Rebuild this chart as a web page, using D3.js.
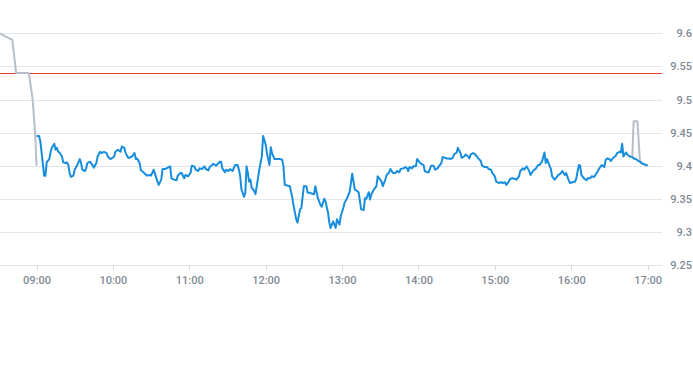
<!DOCTYPE html>
<html>
<head>
<meta charset="utf-8">
<script src="https://cdn.jsdelivr.net/npm/d3@7"></script>
<style>
  body { margin: 0; background: #fff; }
  text { font-family: Roboto, "Noto Sans", sans-serif; }
</style>
</head>
<body>
<div id="chart"></div>
<script>
// pre-market (grey) points
var preTimes = ["08:31", "08:41", "08:44", "08:54", "08:57", "08:59", "09:00"];
var prePrices = [9.600, 9.590, 9.540, 9.540, 9.500, 9.447, 9.400];

// after-hours (grey) points
var postTimes = ["16:48", "16:49", "16:52", "16:54", "17:00"];
var postPrices = [9.413, 9.467, 9.467, 9.406, 9.400];

// regular session (blue)
var sessionTimes = [
  "09:00","09:02","09:03","09:04","09:06","09:07","09:08","09:10","09:11","09:12","09:14","09:15","09:16","09:17","09:18","09:20",
  "09:21","09:23","09:24","09:25","09:26","09:27","09:29","09:30","09:32","09:34","09:35","09:36","09:38","09:39","09:40","09:42",
  "09:44","09:45","09:47","09:48","09:50","09:51","09:53","09:55","09:56","09:58","09:59","10:01","10:02","10:04","10:06","10:07",
  "10:09","10:10","10:12","10:13","10:15","10:17","10:18","10:19","10:21","10:22","10:24","10:25","10:27","10:29","10:30","10:32",
  "10:33","10:35","10:36","10:38","10:39","10:41","10:42","10:44","10:45","10:46","10:48","10:50","10:51","10:53","10:54","10:56",
  "10:57","10:59","11:01","11:02","11:04","11:05","11:07","11:08","11:10","11:12","11:13","11:15","11:16","11:18","11:19","11:21",
  "11:23","11:24","11:25","11:26","11:28","11:29","11:31","11:32","11:34","11:36","11:38","11:39","11:40","11:41","11:43","11:44",
  "11:45","11:46","11:47","11:48","11:49","11:51","11:52","11:53","11:55","11:57","11:58","12:00","12:01","12:03","12:04","12:05",
  "12:07","12:09","12:11","12:13","12:14","12:15","12:17","12:19","12:21","12:22","12:24","12:25","12:26","12:27","12:28","12:30",
  "12:32","12:33","12:35","12:36","12:38","12:39","12:41","12:43","12:44","12:46","12:47","12:49","12:50","12:51","12:53","12:55",
  "12:56","12:58","12:59","13:01","13:02","13:04","13:06","13:07","13:08","13:10","13:11","13:13","13:15","13:17","13:18","13:19",
  "13:21","13:22","13:23","13:25","13:27","13:28","13:30","13:31","13:32","13:34","13:35","13:37","13:38","13:40","13:42","13:43",
  "13:45","13:46","13:48","13:50","13:51","13:52","13:53","13:55","13:56","13:58","13:59","14:01","14:02","14:04","14:05","14:07",
  "14:08","14:10","14:12","14:13","14:15","14:16","14:18","14:19","14:21","14:22","14:24","14:25","14:27","14:28","14:30","14:31",
  "14:33","14:34","14:36","14:37","14:39","14:40","14:41","14:43","14:44","14:46","14:47","14:49","14:50","14:52","14:54","14:55",
  "14:57","14:58","15:00","15:01","15:03","15:05","15:06","15:08","15:09","15:11","15:12","15:14","15:16","15:17","15:19","15:20",
  "15:22","15:23","15:25","15:27","15:28","15:30","15:31","15:32","15:34","15:35","15:37","15:39","15:40","15:41","15:42","15:44",
  "15:45","15:47","15:49","15:50","15:52","15:53","15:55","15:56","15:58","15:59","16:01","16:03","16:04","16:06","16:07","16:08",
  "16:10","16:12","16:13","16:15","16:16","16:18","16:19","16:21","16:22","16:24","16:26","16:27","16:28","16:30","16:31","16:33",
  "16:35","16:36","16:38","16:39","16:40","16:41","16:43","16:44","16:46","16:48","16:49","16:51","16:52","16:54","16:55","16:57",
  "16:59","17:00"
];
var sessionPrices = [
  9.445,9.445,9.437,9.420,9.385,9.385,9.405,9.410,9.420,9.427,9.433,9.424,9.427,9.421,9.420,9.414,
  9.405,9.404,9.405,9.401,9.389,9.383,9.385,9.394,9.401,9.410,9.404,9.394,9.392,9.396,9.404,9.406,
  9.401,9.397,9.404,9.414,9.421,9.419,9.421,9.419,9.414,9.410,9.411,9.414,9.421,9.424,9.421,9.429,
  9.427,9.419,9.412,9.412,9.414,9.419,9.410,9.411,9.404,9.393,9.390,9.388,9.385,9.386,9.385,9.394,
  9.388,9.376,9.371,9.379,9.395,9.395,9.396,9.398,9.399,9.381,9.379,9.378,9.385,9.389,9.389,9.381,
  9.386,9.384,9.389,9.400,9.399,9.394,9.392,9.396,9.395,9.399,9.395,9.393,9.398,9.401,9.403,9.400,
  9.404,9.406,9.406,9.396,9.390,9.394,9.392,9.395,9.392,9.401,9.401,9.394,9.384,9.364,9.353,9.359,
  9.399,9.389,9.376,9.379,9.367,9.362,9.357,9.369,9.394,9.414,9.445,9.432,9.419,9.401,9.428,9.419,
  9.410,9.410,9.410,9.409,9.399,9.371,9.370,9.369,9.351,9.339,9.319,9.314,9.324,9.334,9.336,9.369,
  9.369,9.359,9.359,9.358,9.357,9.369,9.351,9.341,9.338,9.350,9.346,9.329,9.314,9.306,9.316,9.306,
  9.319,9.311,9.324,9.336,9.344,9.351,9.361,9.374,9.388,9.364,9.363,9.360,9.334,9.333,9.351,9.350,
  9.360,9.349,9.357,9.364,9.369,9.384,9.379,9.376,9.369,9.379,9.386,9.390,9.395,9.389,9.389,9.392,
  9.390,9.395,9.396,9.398,9.396,9.392,9.398,9.396,9.399,9.399,9.410,9.405,9.403,9.401,9.392,9.390,
  9.390,9.400,9.400,9.394,9.396,9.399,9.404,9.413,9.412,9.411,9.411,9.410,9.412,9.417,9.420,9.427,
  9.419,9.412,9.414,9.417,9.414,9.411,9.417,9.419,9.418,9.414,9.411,9.407,9.400,9.398,9.398,9.395,
  9.394,9.389,9.384,9.376,9.374,9.375,9.374,9.375,9.371,9.376,9.380,9.381,9.380,9.379,9.384,9.392,
  9.396,9.394,9.399,9.392,9.386,9.392,9.394,9.395,9.401,9.401,9.406,9.420,9.404,9.410,9.405,9.395,
  9.384,9.379,9.384,9.386,9.389,9.392,9.386,9.389,9.378,9.374,9.375,9.376,9.381,9.401,9.400,9.386,
  9.381,9.378,9.381,9.381,9.384,9.383,9.386,9.392,9.396,9.401,9.398,9.408,9.411,9.410,9.407,9.412,
  9.415,9.419,9.421,9.420,9.433,9.414,9.420,9.417,9.414,9.413,9.411,9.410,9.408,9.406,9.404,9.402,
  9.401,9.400
];

// reference line (previous close)
var refPrice = 9.54;

// axis ticks
var yTicks = [9.25, 9.3, 9.35, 9.4, 9.45, 9.5, 9.55, 9.6];
var xTickLabels = ["09:00", "10:00", "11:00", "12:00", "13:00", "14:00", "15:00", "16:00", "17:00"];

var svgWidth = 693;
var svgHeight = 365;
var plotRight = 662;

var parseTime = d3.timeParse("%H:%M");

function zip(times, prices) {
  return times.map((t, i) => ({ time: parseTime(t), price: prices[i] }));
}
var preData = zip(preTimes, prePrices);
var postData = zip(postTimes, postPrices);
var sessionData = zip(sessionTimes, sessionPrices);

var svg = d3.select("#chart")
  .append("svg")
  .attr("width", svgWidth)
  .attr("height", svgHeight);

// scales
var xScale = d3.scaleTime()
  .domain([parseTime("09:00"), parseTime("17:00")])
  .range([36.5, 647.6]);

var yScale = d3.scaleLinear()
  .domain([9.25, 9.6])
  .range([265, 33.3]);

// y axis: gridlines + labels on the right
var yAxis = d3.axisRight(yScale)
  .tickValues(yTicks)
  .tickSize(-plotRight)
  .tickFormat(d => String(+d.toFixed(2)));

var yG = svg.append("g")
  .attr("transform", `translate(${plotRight}, 0)`)
  .call(yAxis);
yG.select(".domain").remove();
yG.selectAll(".tick line")
  .attr("stroke", "#e3e6ea")
  .attr("shape-rendering", "crispEdges");
yG.selectAll(".tick text")
  .attr("x", 30)
  .attr("text-anchor", "end")
  .attr("fill", "#7f8a96")
  .attr("font-weight", 500)
  .attr("font-size", 11);

// x axis
var xAxis = d3.axisBottom(xScale)
  .tickValues(xTickLabels.map(parseTime))
  .tickSize(5)
  .tickPadding(6)
  .tickFormat(d3.timeFormat("%H:%M"));

var xG = svg.append("g")
  .attr("transform", "translate(0, 265)")
  .call(xAxis);
xG.select(".domain").remove();
xG.selectAll(".tick line")
  .attr("stroke", "#d5dae0")
  .attr("shape-rendering", "crispEdges");
xG.selectAll(".tick text")
  .attr("fill", "#7f8a96")
  .attr("font-weight", 500)
  .attr("font-size", 11);

// reference line
svg.append("rect")
  .attr("x", 0)
  .attr("width", plotRight)
  .attr("y", Math.round(yScale(refPrice)))
  .attr("height", 1)
  .attr("fill", "#ee3a2c");

var line = d3.line()
  .x(d => xScale(d.time))
  .y(d => yScale(d.price));

// grey extended-hours lines
[preData, postData].forEach(function(data) {
  svg.append("path")
    .datum(data)
    .attr("fill", "none")
    .attr("stroke", "#b7c0c9")
    .attr("stroke-width", 2)
    .attr("stroke-linejoin", "round")
    .attr("d", line);
});

// blue session line
svg.append("path")
  .datum(sessionData)
  .attr("fill", "none")
  .attr("stroke", "#168ddd")
  .attr("stroke-width", 2)
  .attr("stroke-linejoin", "round")
  .attr("d", line);
</script>
</body>
</html>
